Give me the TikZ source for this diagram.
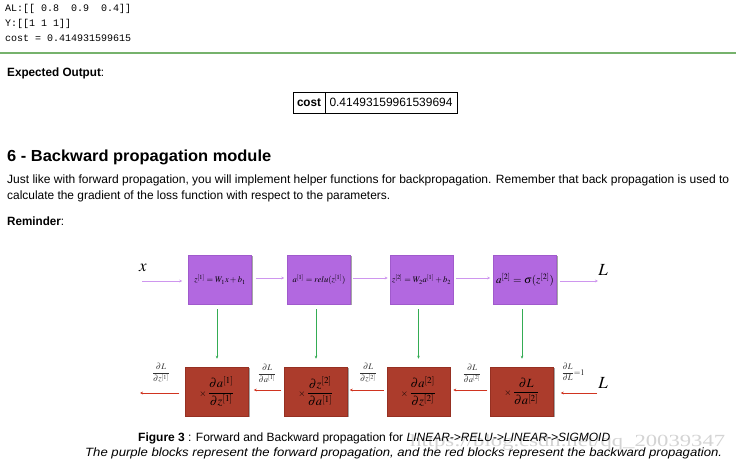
\documentclass[tikz,border=0pt]{standalone}
\usepackage{amsmath}
\usepackage{mathptmx}
\usepackage[no-math]{fontspec}
\setmainfont{Liberation Sans}
\newfontfamily\codefont{Liberation Mono}
\newfontfamily\markfont{Liberation Serif}
\usetikzlibrary{arrows.meta,shadows}

\definecolor{fwdfill}{RGB}{178,104,224}
\definecolor{fwdedge}{RGB}{160,90,204}
\definecolor{bwdfill}{RGB}{172,60,44}
\definecolor{bwdedge}{RGB}{150,48,34}
\definecolor{fwdarrow}{RGB}{206,150,238}
\definecolor{gradarrow}{RGB}{52,172,84}
\definecolor{bwdarrow}{RGB}{208,52,32}
\definecolor{rulegreen}{RGB}{118,178,108}
\definecolor{markgray}{RGB}{212,212,212}

% squeeze a line of text to a given width, keeping its height
\newcommand{\fitw}[2]{\resizebox{#1}{\height}{#2}}

\begin{document}
\begin{tikzpicture}[x=1pt,y=-1pt,
  txt/.style={anchor=base west, inner sep=0pt, font=\fontsize{12}{14}\selectfont},
  code/.style={anchor=base west, inner sep=0pt, font=\codefont\fontsize{10}{12}\selectfont},
  cell/.style={draw=black, line width=0.9pt, minimum height=21pt, inner sep=0pt, font=\fontsize{12}{14}\selectfont},
  blockshadow/.style={drop shadow={shadow xshift=1.3pt, shadow yshift=-1.3pt, fill=black, opacity=0.35}},
  fwdbox/.style={blockshadow, fill=fwdfill, draw=fwdedge, line width=0.5pt, minimum width=63pt, minimum height=49pt, inner sep=0pt, font=\fontsize{8.5}{10}\selectfont},
  bwdbox/.style={blockshadow, fill=bwdfill, draw=bwdedge, line width=0.5pt, minimum width=63pt, minimum height=49pt, inner sep=0pt, font=\fontsize{12.5}{14}\selectfont},
  fwdarr/.style={draw=fwdarrow, line width=1pt, -{Stealth[length=3pt,width=2.8pt]}},
  gradarr/.style={draw=gradarrow, line width=0.7pt, -{Stealth[length=3pt,width=2.6pt]}},
  bwdarr/.style={draw=bwdarrow, line width=1pt, -{Stealth[length=3pt,width=2.8pt]}},
  dlabel/.style={inner sep=0pt, font=\fontsize{8.5}{9}\selectfont, text=black!80},
  bigvar/.style={inner sep=0pt, font=\fontsize{17}{18}\selectfont},
]
\fill[white] (0,0) rectangle (736,463);
\useasboundingbox (0,0) rectangle (736,463);

% console output
\node[code] (al)   at (5,12) {AL:[[ 0.8\ \ 0.9\ \ 0.4]]};
\node[code] (yv)   at (5,27) {Y:[[1 1 1]]};
\node[code] (cost) at (5,41) {cost = 0.414931599615};

% separator rule
\coordinate (ruleL) at (0,53);
\coordinate (ruleR) at (736,53);
\draw[rulegreen, line width=1.2pt] (ruleL) -- (ruleR);

% expected output table
\node[txt] (exp) at (7,76) {\fitw{97pt}{\textbf{Expected Output}:}};
\node[cell, minimum width=32pt]  (c1) at (309,102.5) {\fitw{24pt}{\textbf{cost}}};
\node[cell, minimum width=132pt] (c2) at (391,102.5) {\fitw{123pt}{0.41493159961539694}};

% section heading and text
\node[txt, font=\bfseries\fontsize{16}{18}\selectfont] (head) at (7,161) {\fitw{264pt}{6 - Backward propagation module}};
\node[txt] (p1) at (7,183) {\fitw{722pt}{Just like with forward propagation, you will implement helper functions for backpropagation. Remember that back propagation is used to}};
\node[txt] (p2) at (7,199) {\fitw{383pt}{calculate the gradient of the loss function with respect to the parameters.}};
\node[txt] (rem) at (7,225) {\fitw{57pt}{\textbf{Reminder}:}};

% forward blocks
\node[fwdbox] (f1) at (220,279.5) {$z^{[1]}=W_1x+b_1$};
\node[fwdbox] (f2) at (319,279.5) {$a^{[1]}=relu(z^{[1]})$};
\node[fwdbox] (f3) at (421.5,279.5) {$z^{[2]}=W_2a^{[1]}+b_2$};
\node[fwdbox, font=\fontsize{11}{12}\selectfont] (f4) at (525,279.5) {$a^{[2]}=\sigma(z^{[2]})$};

% backward blocks
\node[bwdbox] (b1) at (217,391.5) {$\mathord{\scriptstyle\times}\,\dfrac{\partial a^{[1]}}{\partial z^{[1]}}$};
\node[bwdbox] (b2) at (316,391.5) {$\mathord{\scriptstyle\times}\,\dfrac{\partial z^{[2]}}{\partial a^{[1]}}$};
\node[bwdbox] (b3) at (418.5,391.5) {$\mathord{\scriptstyle\times}\,\dfrac{\partial a^{[2]}}{\partial z^{[2]}}$};
\node[bwdbox] (b4) at (522,391.5) {$\mathord{\scriptstyle\times}\,\dfrac{\partial L}{\partial a^{[2]}}$};

% input and loss symbols
\node[bigvar] (xin)  at (143,268) {$x$};
\node[bigvar] (Ltop) at (603,270) {$L$};
\node[bigvar] (Lbot) at (603,383) {$L$};

% arrow ends
\coordinate (xs) at (142,281);
\coordinate (le) at (598,281);
\coordinate (ls) at (597,393);
\coordinate (de) at (140,393);

% forward arrows
\draw[fwdarr, shorten >=6pt] (xs) -- (xs -| f1.west);
\draw[fwdarr, shorten <=4pt, shorten >=3pt] ([yshift=1.5pt]f1.east) -- ([yshift=1.5pt]f2.west);
\draw[fwdarr, shorten <=2pt, shorten >=2pt] ([yshift=1.5pt]f2.east) -- ([yshift=1.5pt]f3.west);
\draw[fwdarr, shorten <=3pt, shorten >=3pt] ([yshift=1.5pt]f3.east) -- ([yshift=1.5pt]f4.west);
\draw[fwdarr, shorten <=3pt] (le -| f4.east) -- (le);

% cache arrows
\draw[gradarr, shorten <=5pt, shorten >=8pt] (b1.north |- f1.south) -- (b1.north);
\draw[gradarr, shorten <=5pt, shorten >=8pt] (b2.north |- f2.south) -- (b2.north);
\draw[gradarr, shorten <=5pt, shorten >=8pt] (b3.north |- f3.south) -- (b3.north);
\draw[gradarr, shorten <=5pt, shorten >=8pt] (b4.north |- f4.south) -- (b4.north);

% backward arrows
\draw[bwdarr, shorten <=6pt] (de -| b1.west) -- (de);
\draw[bwdarr, shorten <=3pt, shorten >=5pt] ([yshift=1.5pt]b2.west) -- ([yshift=1.5pt]b1.east);
\draw[bwdarr, shorten <=3pt, shorten >=2pt] ([yshift=1.5pt]b3.west) -- ([yshift=1.5pt]b2.east);
\draw[bwdarr, shorten <=3pt, shorten >=3pt] ([yshift=1.5pt]b4.west) -- ([yshift=1.5pt]b3.east);
\draw[bwdarr, shorten >=7pt] (ls) -- (ls -| b4.east);

% gradient labels
\node[dlabel] (g1) at (161,373) {$\dfrac{\partial L}{\partial z^{[1]}}$};
\node[dlabel] (g2) at (267,373) {$\dfrac{\partial L}{\partial a^{[1]}}$};
\node[dlabel] (g3) at (368,373) {$\dfrac{\partial L}{\partial z^{[2]}}$};
\node[dlabel] (g4) at (472,373) {$\dfrac{\partial L}{\partial a^{[2]}}$};
\node[dlabel] (g5) at (573,372) {$\dfrac{\partial L}{\partial L}{=}1$};

% site mark behind the caption
\node[anchor=base west, inner sep=0pt, text=markgray, font=\markfont\fontsize{17}{18}\selectfont] (mark) at (410,446) {\fitw{315pt}{https://blog.csdn.net/qq\_20039347}};

% caption
\node[txt] (cap1) at (138,441) {\fitw{472pt}{\textbf{Figure 3} : Forward and Backward propagation for \textit{LINEAR->RELU->LINEAR->SIGMOID}}};
\node[txt] (cap2) at (85,456) {\fitw{637pt}{\textit{The purple blocks represent the forward propagation, and the red blocks represent the backward propagation.}}};
\end{tikzpicture}
\end{document}
